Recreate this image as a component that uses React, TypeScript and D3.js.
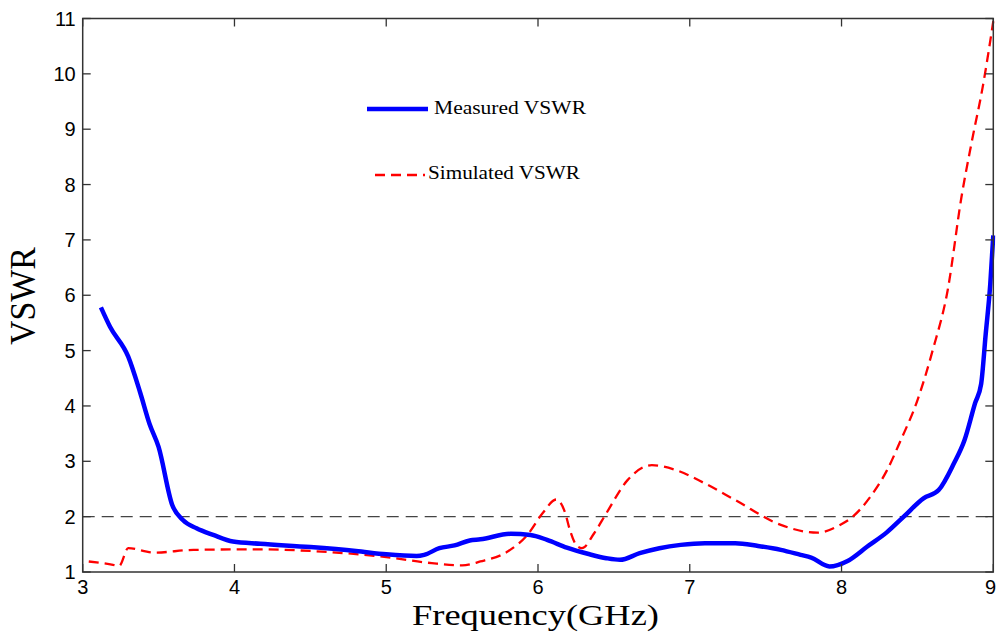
import React from "react";
import * as d3 from "d3";

const measuredFreq = [3.12, 3.18, 3.30, 3.38, 3.44, 3.50, 3.59, 3.66, 3.75, 3.86, 3.99, 4.17, 4.5, 4.8, 5.0, 5.2, 5.25, 5.35, 5.45, 5.55, 5.62, 5.82, 5.95, 6.06, 6.19, 6.34, 6.45, 6.54, 6.67, 6.80, 6.94, 7.1, 7.3, 7.45, 7.60, 7.73, 7.80, 7.92, 8.04, 8.17, 8.30, 8.41, 8.54, 8.64, 8.74, 8.81, 8.88, 8.92, 8.95, 8.98, 9.0];
const measuredVSWR = [5.78, 5.43, 4.89, 4.23, 3.68, 3.26, 2.21, 1.94, 1.79, 1.67, 1.55, 1.51, 1.45, 1.38, 1.32, 1.29, 1.31, 1.43, 1.48, 1.57, 1.59, 1.69, 1.67, 1.58, 1.44, 1.32, 1.25, 1.22, 1.34, 1.43, 1.49, 1.52, 1.52, 1.47, 1.40, 1.31, 1.26, 1.10, 1.20, 1.46, 1.72, 2.0, 2.33, 2.48, 2.96, 3.38, 4.05, 4.4, 5.3, 6.2, 7.08];

const simulatedFreq = [3.04, 3.20, 3.24, 3.30, 3.47, 3.73, 4.17, 4.5, 5.0, 5.3, 5.5, 5.62, 5.80, 5.93, 6.03, 6.12, 6.18, 6.21, 6.26, 6.29, 6.37, 6.45, 6.59, 6.75, 6.9, 7.1, 7.3, 7.6, 7.84, 7.99, 8.07, 8.19, 8.30, 8.39, 8.5, 8.6, 8.7, 8.79, 8.86, 8.93, 9.0];
const simulatedVSWR = [1.19, 1.13, 1.11, 1.43, 1.35, 1.40, 1.41, 1.38, 1.27, 1.16, 1.12, 1.19, 1.37, 1.67, 2.06, 2.31, 2.06, 1.76, 1.46, 1.43, 1.70, 2.06, 2.66, 2.93, 2.85, 2.6, 2.3, 1.85, 1.71, 1.85, 1.99, 2.36, 2.84, 3.38, 4.1, 5.0, 6.1, 7.77, 8.80, 9.76, 10.95];

const xTicks = [3, 4, 5, 6, 7, 8, 9];
const yTicks = [1, 2, 3, 4, 5, 6, 7, 8, 9, 10, 11];
const refLevel = 2;
const seriesNames = ["Measured VSWR", "Simulated VSWR"];

export default function App() {
  const W = 997, H = 634;
  const left = 82.7, right = 993.3, top = 18.5, bottom = 572;
  const x = d3.scaleLinear().domain([3, 9]).range([left, right]);
  const y = d3.scaleLinear().domain([1, 11]).range([bottom, top]);
  const line = d3
    .line<[number, number]>()
    .x((d) => x(d[0]))
    .y((d) => y(d[1]))
    .curve(d3.curveMonotoneX);
  const meas = measuredFreq.map((f, i) => [f, measuredVSWR[i]] as [number, number]);
  const sim = simulatedFreq.map((f, i) => [f, simulatedVSWR[i]] as [number, number]);
  const axisColor = "#333";
  const tickLen = 8;
  const serif = "Liberation Serif, Times New Roman, serif";
  const sans = "Liberation Sans, Arial, sans-serif";

  return (
    <svg width={W} height={H} style={{ position: "absolute", left: 0, top: 0, background: "#fff" }}>
      <defs>
        <clipPath id="plot">
          <rect x={left} y={top - 2} width={right - left + 2} height={bottom - top + 2} />
        </clipPath>
      </defs>
      <line x1={left} x2={right} y1={y(refLevel)} y2={y(refLevel)} stroke="#444" strokeWidth={1.2} strokeDasharray="12,7" />
      <g clipPath="url(#plot)">
        <path d={line(sim) || ""} fill="none" stroke="#ff0000" strokeWidth={2.3} strokeDasharray="10,6" />
        <path d={line(meas) || ""} fill="none" stroke="#0000ff" strokeWidth={4.5} strokeLinejoin="round" />
      </g>
      <rect x={left} y={top} width={right - left} height={bottom - top} fill="none" stroke={axisColor} strokeWidth={1.5} />
      {xTicks.map((t, i) => (
        <g key={"x" + t}>
          <line x1={x(t)} x2={x(t)} y1={bottom} y2={bottom - tickLen} stroke={axisColor} strokeWidth={1.3} />
          <line x1={x(t)} x2={x(t)} y1={top} y2={top + tickLen} stroke={axisColor} strokeWidth={1.3} />
          <text
            x={i === xTicks.length - 1 ? W - 1 : x(t)}
            y={bottom + 22}
            textAnchor={i === xTicks.length - 1 ? "end" : "middle"}
            fontFamily={sans}
            fontSize={20}
            fill="#000"
          >
            {t}
          </text>
        </g>
      ))}
      {yTicks.map((t) => (
        <g key={"y" + t}>
          <line x1={left} x2={left + tickLen} y1={y(t)} y2={y(t)} stroke={axisColor} strokeWidth={1.3} />
          <line x1={right} x2={right - tickLen} y1={y(t)} y2={y(t)} stroke={axisColor} strokeWidth={1.3} />
          <text x={left - 7} y={y(t) + 7} textAnchor="end" fontFamily={sans} fontSize={20} fill="#000">
            {t}
          </text>
        </g>
      ))}
      <text x={412} y={625} fontFamily={serif} fontSize={30} textLength={247} lengthAdjust="spacingAndGlyphs" fill="#000">
        Frequency(GHz)
      </text>
      <text
        transform={`translate(35, 296) rotate(-90)`}
        textAnchor="middle"
        fontFamily={serif}
        fontSize={36}
        textLength={98}
        lengthAdjust="spacingAndGlyphs"
        fill="#000"
      >
        VSWR
      </text>
      <line x1={367} x2={428} y1={109} y2={109} stroke="#0000ff" strokeWidth={4.5} />
      <text x={434} y={114} fontFamily={serif} fontSize={18} textLength={152} lengthAdjust="spacingAndGlyphs" fill="#000">
        {seriesNames[0]}
      </text>
      <line x1={375} x2={425} y1={175} y2={175} stroke="#ff0000" strokeWidth={2.3} strokeDasharray="10,6" />
      <text x={428} y={178.5} fontFamily={serif} fontSize={18} textLength={152} lengthAdjust="spacingAndGlyphs" fill="#000">
        {seriesNames[1]}
      </text>
    </svg>
  );
}
